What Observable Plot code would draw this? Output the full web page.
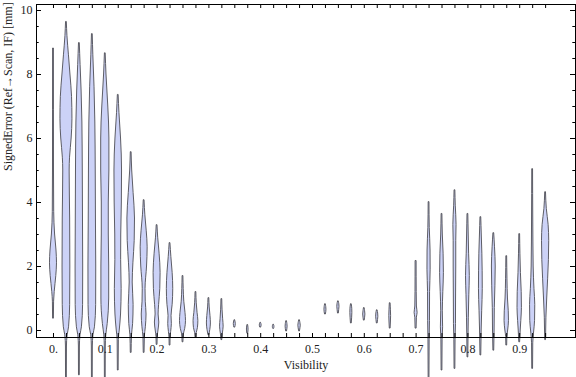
<!DOCTYPE html>
<html><head><meta charset="utf-8">
<script src="https://cdn.jsdelivr.net/npm/d3@7"></script>
<script src="https://cdn.jsdelivr.net/npm/@observablehq/plot@0.6"></script>
<style>html,body{margin:0;padding:0;background:#fff} svg{display:block}</style>
</head><body><div id="chart"></div>
<script>
// Violin positions (Visibility)
const visibility = [0, 0.025, 0.05, 0.075, 0.1, 0.125, 0.15, 0.175, 0.2, 0.225, 0.25, 0.275, 0.3, 0.325,
  0.35, 0.375, 0.4, 0.425, 0.45, 0.475, 0.525, 0.55, 0.575, 0.6, 0.625, 0.65,
  0.7, 0.725, 0.75, 0.775, 0.8, 0.825, 0.85, 0.875, 0.9, 0.925, 0.95];

// Density profiles per violin: [signed error (mm), relative density]
const profiles = [
  [[8.8,0.4],[5.0,0.5],[3.7,0.7],[3.0,1.6],[2.5,3.0],[2.1,3.5],[1.7,2.8],[1.2,1.2],[0.9,0.6],[0.37,0.4]],
  [[9.63,0.4],[9.2,1.0],[8.6,2.5],[8.0,4.0],[7.3,5.6],[6.6,6.0],[6.0,5.2],[5.4,3.6],[5.0,3.2],[3.5,3.7],[2.0,3.9],[0.8,3.7],[0.1,2.6],[-0.15,1.2],[-0.5,0.5],[-1.5,0.4]],
  [[8.97,0.4],[8.3,1.2],[7.5,2.2],[6.5,3.0],[5.0,3.4],[3.5,3.6],[2.0,3.8],[0.8,3.7],[0.1,2.5],[-0.15,1.1],[-0.5,0.5],[-1.4,0.4]],
  [[9.25,0.4],[8.6,1.0],[7.6,2.2],[6.5,3.0],[5.0,3.4],[3.5,3.6],[2.0,3.9],[0.8,3.8],[0.1,2.6],[-0.15,1.1],[-0.5,0.5],[-1.5,0.4]],
  [[8.65,0.4],[8.0,1.2],[7.0,3.0],[6.0,4.1],[5.0,4.1],[4.0,3.5],[3.0,3.5],[2.0,3.9],[1.0,3.9],[0.2,2.4],[-0.15,1.0],[-0.5,0.5],[-1.5,0.4]],
  [[7.35,0.4],[6.8,1.2],[6.0,2.8],[5.0,3.8],[4.0,3.6],[3.0,3.0],[2.2,2.9],[1.3,3.4],[0.5,2.8],[0.0,1.5],[-0.3,0.6],[-1.25,0.4]],
  [[5.56,0.4],[5.0,1.0],[4.3,2.4],[3.5,3.8],[2.8,3.5],[2.1,2.2],[1.5,1.5],[0.8,2.4],[0.2,1.9],[-0.15,0.8],[-0.7,0.4]],
  [[4.06,0.4],[3.6,1.2],[3.1,2.6],[2.6,3.5],[2.0,2.9],[1.3,1.4],[0.9,1.6],[0.5,2.4],[0.1,1.7],[-0.2,0.7],[-0.7,0.4]],
  [[3.28,0.4],[2.9,1.1],[2.4,2.5],[1.8,3.5],[1.3,3.2],[0.8,2.0],[0.5,1.5],[0.25,2.2],[0.0,1.4],[-0.2,0.6],[-0.45,0.4]],
  [[2.72,0.4],[2.3,1.3],[1.8,2.6],[1.3,3.2],[0.8,2.6],[0.45,1.5],[0.2,1.8],[-0.05,1.1],[-0.25,0.5],[-0.47,0.4]],
  [[1.69,0.4],[1.3,0.7],[0.9,1.3],[0.55,2.5],[0.3,3.0],[0.05,2.2],[-0.12,0.9],[-0.37,0.4]],
  [[1.19,0.4],[0.85,0.8],[0.55,1.6],[0.3,2.4],[0.08,2.0],[-0.08,0.8],[-0.22,0.4]],
  [[1.0,0.4],[0.72,0.8],[0.45,1.6],[0.22,2.0],[0.02,1.4],[-0.15,0.4]],
  [[0.97,0.4],[0.65,0.7],[0.35,1.3],[0.12,1.8],[-0.1,1.0],[-0.3,0.4]],
  [[0.31,0.4],[0.25,0.8],[0.2,1.0],[0.14,0.8],[0.09,0.4]],
  [[0.16,0.4],[0.09,0.7],[0.03,0.8],[-0.03,0.7],[-0.1,0.4]],
  [[0.23,0.4],[0.19,0.8],[0.16,0.9],[0.13,0.8],[0.09,0.4]],
  [[0.17,0.4],[0.14,0.7],[0.11,0.8],[0.08,0.7],[0.05,0.4]],
  [[0.28,0.4],[0.2,0.8],[0.12,1.0],[0.05,0.8],[-0.03,0.4]],
  [[0.31,0.4],[0.23,0.9],[0.15,1.2],[0.07,0.9],[-0.03,0.4]],
  [[0.81,0.4],[0.73,0.8],[0.65,1.0],[0.57,0.8],[0.5,0.4]],
  [[0.9,0.4],[0.82,0.9],[0.74,1.1],[0.64,0.8],[0.53,0.4]],
  [[0.81,0.4],[0.68,0.9],[0.55,1.0],[0.4,0.8],[0.22,0.4]],
  [[0.69,0.4],[0.6,0.8],[0.5,1.1],[0.4,0.8],[0.31,0.4]],
  [[0.62,0.4],[0.53,0.9],[0.43,1.1],[0.33,0.8],[0.22,0.4]],
  [[0.84,0.4],[0.65,0.7],[0.45,0.9],[0.25,0.7],[0.06,0.4]],
  [[2.16,0.5],[1.2,0.6],[0.75,0.8],[0.55,1.5],[0.4,0.8],[0.06,0.5]],
  [[4.0,0.4],[3.2,0.7],[2.5,1.5],[1.9,1.6],[1.2,1.0],[0.3,0.9],[-0.3,0.6],[-1.5,0.4]],
  [[3.63,0.4],[3.0,0.8],[2.4,1.6],[1.8,1.9],[1.2,1.3],[0.6,0.8],[0.1,1.1],[-0.3,0.6],[-1.25,0.4]],
  [[4.37,0.4],[3.9,0.8],[3.3,1.6],[2.8,1.3],[2.0,1.3],[1.0,1.1],[0.2,1.0],[-0.3,0.6],[-1.2,0.4]],
  [[3.63,0.4],[3.0,0.8],[2.4,1.2],[1.7,1.9],[1.1,1.4],[0.4,0.9],[-0.2,0.6],[-0.84,0.4]],
  [[3.53,0.4],[3.0,0.9],[2.4,1.5],[1.3,1.9],[0.6,1.3],[0.0,0.8],[-0.78,0.4]],
  [[3.03,0.4],[2.6,1.2],[2.0,1.9],[1.4,1.6],[0.7,1.0],[0.0,0.8],[-0.63,0.4]],
  [[2.31,0.4],[1.6,0.7],[1.0,1.2],[0.6,2.0],[0.3,2.2],[0.0,1.4],[-0.2,0.6],[-0.47,0.4]],
  [[3.0,0.4],[2.4,0.7],[1.8,1.2],[1.2,2.0],[0.7,2.2],[0.3,1.6],[0.0,1.0],[-0.37,0.4]],
  [[5.03,0.4],[3.5,0.6],[2.0,1.0],[1.3,1.8],[0.8,2.6],[0.3,2.4],[-0.1,1.3],[-0.4,0.6],[-1.2,0.4]],
  [[4.31,0.4],[3.8,1.2],[3.3,3.0],[2.8,3.6],[2.2,3.3],[1.6,2.5],[1.0,1.6],[0.4,0.8],[-0.3,0.4]]
];

// Ticks and labels
const xTicks = d3.range(0, 0.951, 0.025);
const xLabelTicks = [0, 0.1, 0.2, 0.3, 0.4, 0.5, 0.6, 0.7, 0.8, 0.9];
const xTickLabels = ["0.", "0.1", "0.2", "0.3", "0.4", "0.5", "0.6", "0.7", "0.8", "0.9"];
const yMajorTicks = [0, 2, 4, 6, 8, 10];
const yTickLabels = ["0", "2", "4", "6", "8", "10"];
const yMinorTicks = [0.5, 1, 1.5, 2.5, 3, 3.5, 4.5, 5, 5.5, 6.5, 7, 7.5, 8.5, 9, 9.5];
const xTitle = "Visibility";
const yTitle = "SignedError (Ref\u2192Scan, IF) [mm]";

const W = 576, H = 377, mT = 4, mB = 40, mL = 36, mR = 1;
const frameW = W - mL - mR, frameH = H - mT - mB;
const xDomain = [-0.0328, 1.0077];
const pxPerUnit = frameW / (xDomain[1] - xDomain[0]);
const K = 1 / pxPerUnit;

const rows = visibility.flatMap((v, i) => profiles[i].map(([e, w]) => ({v, e, w, i})));

const font = "Liberation Serif, Times New Roman, serif";
const chart = Plot.plot({
  width: W, height: H,
  marginTop: mT, marginBottom: mB, marginLeft: mL, marginRight: mR,
  style: {fontFamily: font, fontSize: "12px", background: "white"},
  x: {domain: xDomain, axis: null},
  y: {domain: [-0.21875, 10.1875], axis: null},
  marks: [
    Plot.areaX(rows, {y: "e", x1: d => d.v - d.w * K, x2: d => d.v + d.w * K, z: "i",
      fill: "#ccd2f7", stroke: "#4d4d55", strokeWidth: 0.9, curve: "monotone-y"}),
    Plot.frame({stroke: "black"}),
    // bottom & top ticks (inward)
    Plot.ruleX(xTicks, {x: d => d, insetTop: frameH - 4, stroke: "black"}),
    Plot.ruleX(xTicks, {x: d => d, insetBottom: frameH - 4, stroke: "black"}),
    // left & right ticks
    Plot.ruleY(yMajorTicks, {y: d => d, insetRight: frameW - 5, stroke: "black"}),
    Plot.ruleY(yMinorTicks, {y: d => d, insetRight: frameW - 2.7, stroke: "black"}),
    Plot.ruleY(yMajorTicks, {y: d => d, insetLeft: frameW - 5, stroke: "black"}),
    Plot.ruleY(yMinorTicks, {y: d => d, insetLeft: frameW - 2.7, stroke: "black"}),
    Plot.axisX(xLabelTicks, {anchor: "bottom", tickSize: 0, tickPadding: 7, label: null,
      tickFormat: d => xTickLabels[xLabelTicks.indexOf(d)], fill: "#222"}),
    Plot.axisY(yMajorTicks, {anchor: "left", tickSize: 0, tickPadding: 4, label: null,
      tickFormat: d => yTickLabels[yMajorTicks.indexOf(d)], fill: "#222"}),
    Plot.text([xTitle], {frameAnchor: "bottom", dy: 31, text: d => d, fill: "#222"}),
    Plot.text([yTitle], {frameAnchor: "left", dx: -28, rotate: -90, text: d => d, fill: "#222"})
  ]
});
document.getElementById("chart").appendChild(chart);
</script>
</body></html>
